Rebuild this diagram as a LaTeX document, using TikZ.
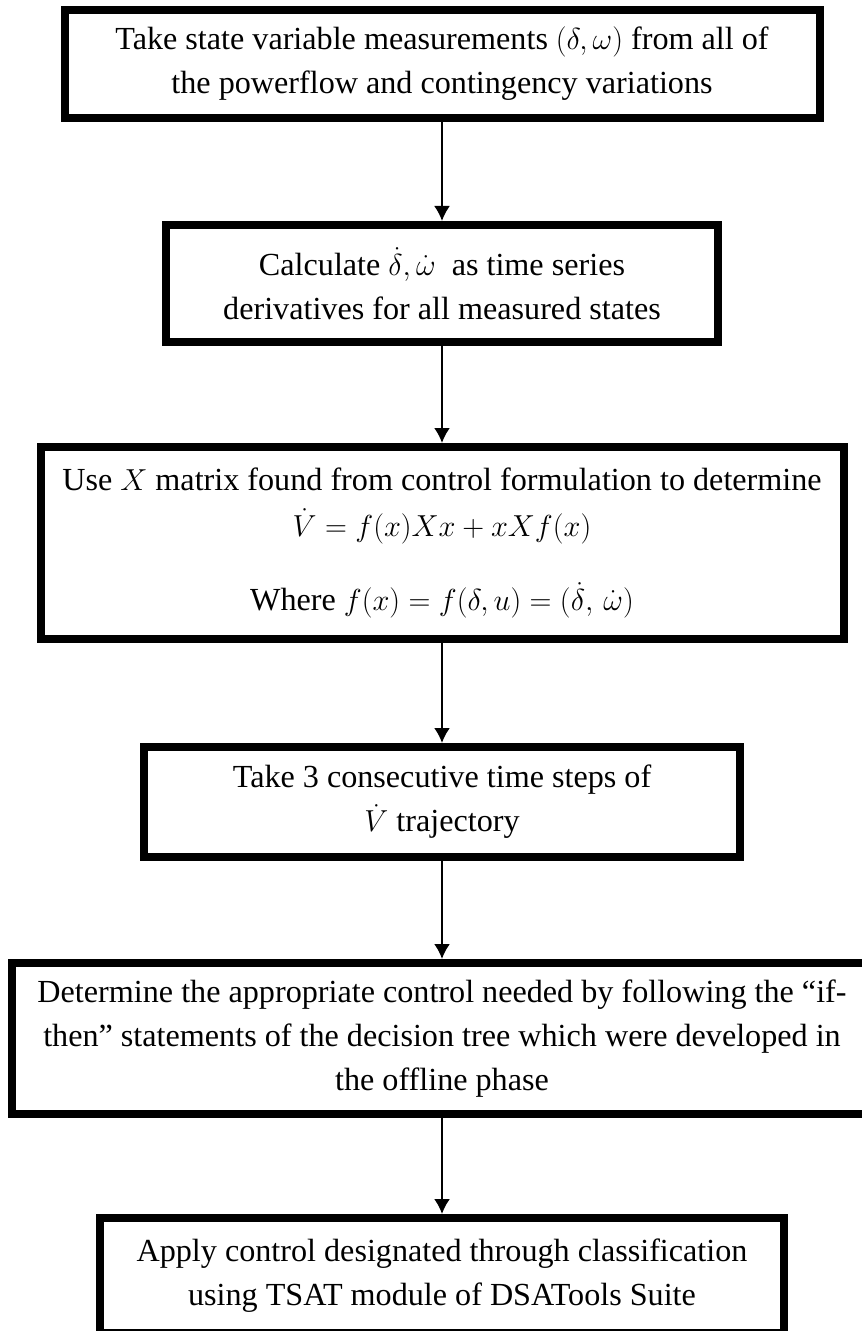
\documentclass[tikz,border=0pt]{standalone}
\usepackage{fontspec}
\setmainfont{Liberation Serif}
\usepackage{tikz}
\usetikzlibrary{arrows.meta}
\newcommand{\boxthickness}{0.16cm}
\newcommand{\arrowthickness}{0.04cm}
\tikzset{stepbox/.style={draw, rectangle, line width=\boxthickness, inner sep=0pt, align=center, font=\fontsize{18.3}{25}\selectfont}}

\begin{document}
\begin{tikzpicture}
\useasboundingbox (0.0, 0.0) rectangle (17.22, -26.62);
\node[stepbox, minimum width=15.1cm, minimum height=2.16cm] (1) at (8.84, -1.28) {Take state variable measurements $(\delta,\omega)$ from all of\\the powerflow and contingency variations};
\node[stepbox, minimum width=11.04cm, minimum height=2.34cm] (2) at (8.84, -5.67) {Calculate $\dot{\delta},\dot{\omega}$\ \ as time series\\derivatives for all measured states};
\node[stepbox, minimum width=16.06cm, minimum height=3.84cm] (3) at (8.84, -10.86) {Use $X$ matrix found from control formulation to determine\\[0.04cm]$\dot{V}=f(x)Xx+xXf(x)$\\[0.6cm]Where $f(x)=f(\delta,u)=(\dot{\delta},\,\dot{\omega})$};
\node[stepbox, minimum width=11.92cm, minimum height=2.2cm] (4) at (8.84, -16.04) {Take 3 consecutive time steps of\\$\dot{V}$ trajectory};
\node[stepbox, minimum width=17.2cm, minimum height=3.02cm] (5) at (8.84, -20.77) {Determine the appropriate control needed by following the “if-\\then” statements of the decision tree which were developed in\\the offline phase};
\node[stepbox, minimum width=13.68cm, minimum height=2.3cm] (6) at (8.84, -25.51) {Apply control designated through classification\\using TSAT module of DSATools Suite};
%arrows
\draw[-{Latex[length=0.3cm, width=0.32cm]}, line width=\arrowthickness] (1) -- (2);
\draw[-{Latex[length=0.3cm, width=0.32cm]}, line width=\arrowthickness] (2) -- (3);
\draw[-{Latex[length=0.3cm, width=0.32cm]}, line width=\arrowthickness] (3) -- (4);
\draw[-{Latex[length=0.3cm, width=0.32cm]}, line width=\arrowthickness] (4) -- (5);
\draw[-{Latex[length=0.3cm, width=0.32cm]}, line width=\arrowthickness] (5) -- (6);
\end{tikzpicture}
\end{document}
